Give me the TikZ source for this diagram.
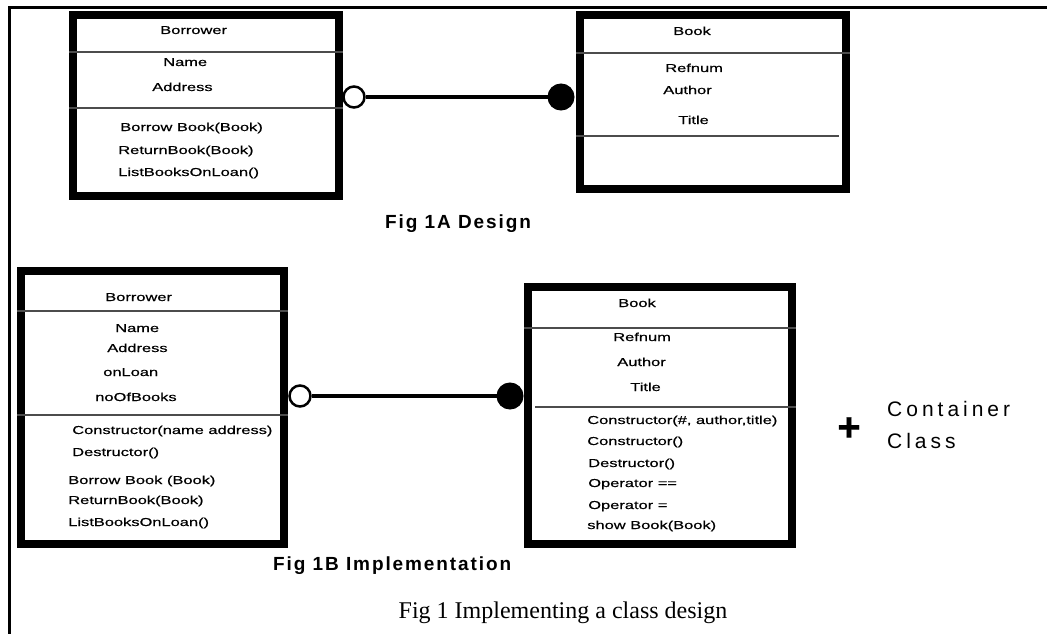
\documentclass[tikz,border=0pt]{standalone}
\usepackage{fontspec}
\setmainfont{Liberation Serif}
\newfontfamily\umlfont[FakeBold=0.4]{Liberation Sans}
\newfontfamily\figfont[LetterSpace=10]{Liberation Sans}
\newfontfamily\sidefont[LetterSpace=19]{Liberation Sans}

\definecolor{rulegrey}{gray}{0.3}

\tikzset{
  umlbox/.style={draw=black, line width=8pt, fill=white, rectangle, inner sep=0pt},
  divider/.style={draw=rulegrey, line width=1.8pt},
  umltext/.style={anchor=base west, inner sep=0pt, xscale=1.43,
                  font=\umlfont\fontsize{11.5}{13}\selectfont},
  hollowend/.style={circle, draw=black, fill=white, line width=2.5pt,
                    minimum size=21pt, inner sep=0pt},
  solidend/.style={circle, draw=black, fill=black, line width=1pt,
                   minimum size=26pt, inner sep=0pt},
  link/.style={draw=black, line width=3.5pt},
  figcap/.style={anchor=base west, inner sep=0pt,
                 font=\figfont\bfseries\fontsize{19}{22}\selectfont},
  frameline/.style={draw=black, line width=2.5pt}
}

\begin{document}
\begin{tikzpicture}[x=1pt, y=-1pt]
\useasboundingbox[fill=white] (0,0) rectangle (1047,634);

% page frame (top and left rules)
\coordinate (ftl) at (9.5,7.5);
\coordinate (ftr) at (1047,7.5);
\coordinate (fbl) at (9.5,634);
\draw[frameline] (8,7.5) -- (ftr);
\draw[frameline] (ftl) -- (fbl);

% ---------------- Fig 1A : design ----------------
\node[umlbox, minimum width=266pt, minimum height=181pt] (bA) at (206,105.5) {};
\draw[divider] (bA.west |- 0,52) -- (bA.east |- 0,52);
\draw[divider] (bA.west |- 0,108) -- (bA.east |- 0,108);
\node[umltext] (bAname)  at (160,34)  {Borrower};
\node[umltext] (bAa1)    at (163,66)  {Name};
\node[umltext] (bAa2)    at (152,91)  {Address};
\node[umltext] (bAm1)    at (120,131) {Borrow Book(Book)};
\node[umltext] (bAm2)    at (118,154) {ReturnBook(Book)};
\node[umltext] (bAm3)    at (118,176) {ListBooksOnLoan()};

\node[umlbox, minimum width=266pt, minimum height=174pt] (kA) at (713,102) {};
\draw[divider] (kA.west |- 0,53) -- (kA.east |- 0,53);
\draw[divider] (kA.west |- 0,136) -- (839,136);
\node[umltext] (kAname) at (673,35)  {Book};
\node[umltext] (kAa1)   at (665,72)  {Refnum};
\node[umltext] (kAa2)   at (663,94)  {Author};
\node[umltext] (kAa3)   at (678,124) {Title};

\node[hollowend] (oA) at (354,97) {};
\node[solidend]  (sA) at (561,97) {};
\draw[link] (oA) -- (sA);

\node[figcap] (capA) at (385,228) {Fig 1A Design};

% ---------------- Fig 1B : implementation ----------------
\node[umlbox, minimum width=263pt, minimum height=273pt] (bB) at (152.5,407.5) {};
\draw[divider] (bB.west |- 0,311) -- (bB.east |- 0,311);
\draw[divider] (bB.west |- 0,415) -- (bB.east |- 0,415);
\node[umltext] (bBname) at (105,301) {Borrower};
\node[umltext] (bBa1)   at (115,332) {Name};
\node[umltext] (bBa2)   at (107,352) {Address};
\node[umltext] (bBa3)   at (103,376) {onLoan};
\node[umltext] (bBa4)   at (95,401)  {noOfBooks};
\node[umltext] (bBm1)   at (72,434)  {Constructor(name address)};
\node[umltext] (bBm2)   at (72,456)  {Destructor()};
\node[umltext] (bBm3)   at (68,484)  {Borrow Book (Book)};
\node[umltext] (bBm4)   at (68,504)  {ReturnBook(Book)};
\node[umltext] (bBm5)   at (68,526)  {ListBooksOnLoan()};

\node[umlbox, minimum width=264pt, minimum height=257pt] (kB) at (660,415.5) {};
\draw[divider] (kB.west |- 0,328) -- (kB.east |- 0,328);
\draw[divider] (535,407) -- (kB.east |- 0,407);
\node[umltext] (kBname) at (618,307) {Book};
\node[umltext] (kBa1)   at (613,341) {Refnum};
\node[umltext] (kBa2)   at (617,366) {Author};
\node[umltext] (kBa3)   at (630,391) {Title};
\node[umltext] (kBm1)   at (587,424) {Constructor(\#, author,title)};
\node[umltext] (kBm2)   at (587,445) {Constructor()};
\node[umltext] (kBm3)   at (588,467) {Destructor()};
\node[umltext] (kBm4)   at (588,487) {Operator ==};
\node[umltext] (kBm5)   at (588,509) {Operator =};
\node[umltext] (kBm6)   at (587,529) {show Book(Book)};

\node[hollowend] (oB) at (300,396) {};
\node[solidend]  (sB) at (510,396) {};
\draw[link] (oB) -- (sB);

\node[figcap] (capB) at (273,570) {Fig 1B Implementation};

% container class note
\node[inner sep=0pt, font=\umlfont\bfseries\fontsize{40}{40}\selectfont] (plus) at (849,429) {+};
\node[anchor=base west, inner sep=0pt, font=\sidefont\fontsize{21}{24}\selectfont] (cont) at (887,416) {Container};
\node[anchor=base west, inner sep=0pt, font=\sidefont\fontsize{21}{24}\selectfont] (clss) at (887,448) {Class};

% figure caption
\node[inner sep=0pt, font=\fontsize{24}{28}\selectfont] (cap) at (563,613) {Fig 1 Implementing a class design};
\end{tikzpicture}
\end{document}
